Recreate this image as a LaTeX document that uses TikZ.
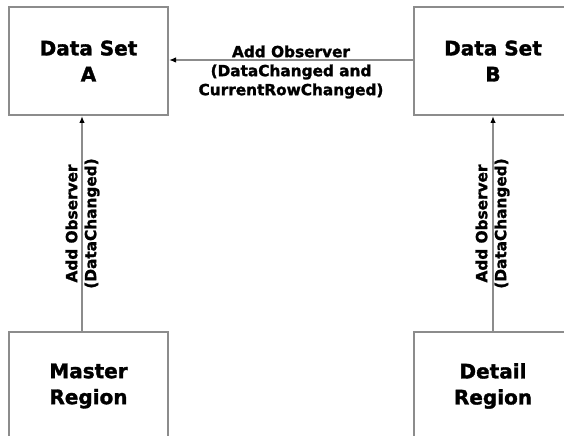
\documentclass[tikz,border=0pt]{standalone}
\usepackage{fontspec}
\setmainfont{DejaVu Sans}[BoldFeatures={FakeBold=1.6}]
\usetikzlibrary{arrows.meta}
\definecolor{edgegray}{HTML}{8C8C8C}
\begin{document}
\begin{tikzpicture}[x=1bp,y=-1bp,
  block/.style={draw=edgegray, line width=2bp, minimum width=159bp, minimum height=108bp,
    inner sep=0pt, align=center, font=\fontsize{20bp}{26bp}\selectfont\bfseries},
  link/.style={draw=edgegray, line width=1.5bp,
    -{Latex[length=7bp,width=5.5bp,black]}},
  tag/.style={align=center, inner sep=0pt, font=\fontsize{15.3bp}{19bp}\selectfont\bfseries}]
  \useasboundingbox (0,0) rectangle (564,436);
  \begin{scope}
    \clip (0,0) rectangle (564,436);
    \node[block] (dsa) at (88.5,61) {Data Set\\A};
    \node[block] (dsb) at (493,61) {Data Set\\B};
    \node[block] (master) at (88.5,386) {Master\\Region};
    \node[block] (detail) at (493,386) {Detail\\Region};
  \end{scope}
  % observer registrations
  \coordinate (bin) at (dsb.west |- 0,60);
  \coordinate (ain) at (dsa.east |- 0,60);
  \draw[link] (bin) -- (ain);
  \coordinate (mtop) at (master.north -| 82,0);
  \coordinate (abot) at (dsa.south -| 82,0);
  \draw[link] (mtop) -- (abot);
  \coordinate (dtop) at (detail.north -| 493,0);
  \coordinate (bbot) at (dsb.south -| 493,0);
  \draw[link] (dtop) -- (bbot);
  % labels
  \node[tag] (lab) at (291,72) {Add Observer\\(DataChanged and\\CurrentRowChanged)};
  \node[tag, rotate=90] (laba) at (82.5,223.5) {Add Observer\\(DataChanged)};
  \node[tag, rotate=90] (labb) at (492.5,223.5) {Add Observer\\(DataChanged)};
\end{tikzpicture}
\end{document}
